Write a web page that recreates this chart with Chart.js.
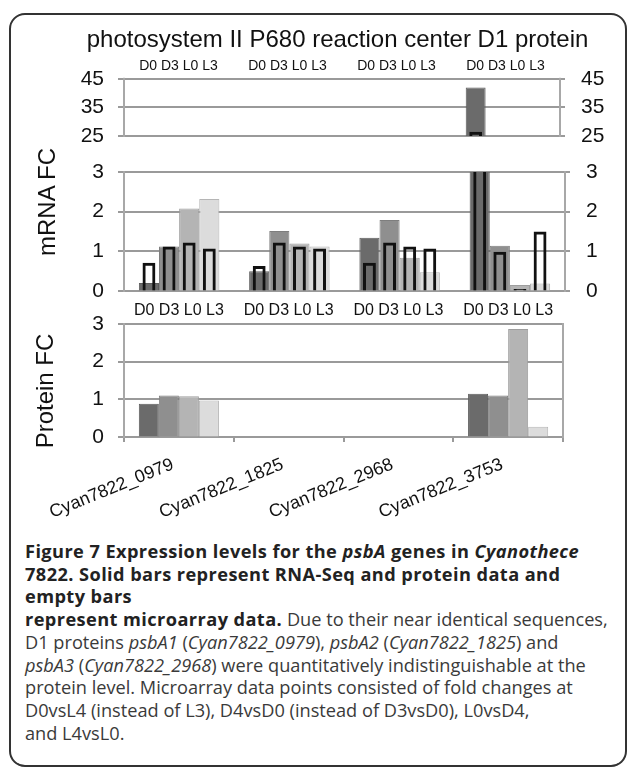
<!DOCTYPE html>
<html>
<head>
<meta charset="utf-8">
<script src="https://cdn.jsdelivr.net/npm/chart.js@4"></script>
<style>
  body { margin: 0; background: #fff; width: 629px; height: 768px; overflow: hidden; position: relative; font-family: "Liberation Sans", Arial, sans-serif; }
  .frame { position: absolute; left: 9px; top: 13px; width: 618px; height: 754px; box-sizing: border-box; border: 2px solid #333; border-radius: 16px; }
  canvas { position: absolute; }
  .ytitle { position: absolute; font-size: 24px; color: #111; transform: translate(-50%, -50%) rotate(-90deg); white-space: nowrap; }
  .caption { position: absolute; left: 25px; top: 540px; font-family: "Open Sans", sans-serif; font-size: 18.2px; line-height: 22.7px; color: #3a3a3a; white-space: nowrap; }
  .caption b { color: #222; letter-spacing: 0.42px; }
</style>
</head>
<body>
<div class="frame"></div>
<canvas id="topChart" width="583" height="136" style="left:46px; top:14px;"></canvas>
<canvas id="mrnaChart" width="629" height="150" style="left:0; top:150px;"></canvas>
<canvas id="protChart" width="629" height="234" style="left:0; top:296px;"></canvas>
<div class="ytitle" style="left:47px; top:202px;">mRNA FC</div>
<div class="ytitle" style="left:45px; top:391px;">Protein FC</div>
<div class="caption">
<b>Figure 7 Expression levels for the <i>psbA</i> genes in <i>Cyanothece</i></b><br>
<b>7822. Solid bars represent RNA-Seq and protein data and</b><br>
<b>empty bars</b><br>
<b>represent microarray data.</b> Due to their near identical sequences,<br>
D1 proteins <i>psbA1</i> (<i>Cyan7822_0979</i>), <i>psbA2</i> (<i>Cyan7822_1825</i>) and<br>
<i>psbA3</i> (<i>Cyan7822_2968</i>) were quantitatively indistinguishable at the<br>
protein level. Microarray data points consisted of fold changes at<br>
D0vsL4 (instead of L3), D4vsD0 (instead of D3vsD0), L0vsD4,<br>
and L4vsL0.
</div>
<script>
const genes = ["Cyan7822_0979", "Cyan7822_1825", "Cyan7822_2968", "Cyan7822_3753"];
const conditions = ["D0", "D3", "L0", "L3"];

// mRNA fold change from RNA-Seq (solid bars)
const rnaseqD0 = [0.2, 0.5, 1.34, 42];
const rnaseqD3 = [1.12, 1.51, 1.79, 1.14];
const rnaseqL0 = [2.08, 1.2, 0.84, 0.15];
const rnaseqL3 = [2.32, 1.12, 0.47, 0.19];

// mRNA fold change from microarray (empty bars)
const arrayD0 = [0.71, 0.63, 0.71, 26.5];
const arrayD3 = [1.12, 1.22, 1.22, 0.99];
const arrayL0 = [1.22, 1.12, 1.12, 0.05];
const arrayL3 = [1.07, 1.07, 1.07, 1.5];

// protein fold change (only 0979 and 3753 measured)
const proteinD0 = [0.88, null, null, 1.15];
const proteinD3 = [1.1, null, null, 1.1];
const proteinL0 = [1.08, null, null, 2.87];
const proteinL3 = [0.97, null, null, 0.27];

const brokenTicks = [25, 35, 45];
const foldTicks = [0, 1, 2, 3];

const conditionRow = conditions.join(" ");
const solidColors = ["#6b6b6b", "#8f8f8f", "#b4b4b4", "#dcdcdc"];
const solidEdges = ["#5c5c5c", "#7e7e7e", "#9e9e9e", "#b5b5b5"];
const gridGray = "#9a9a9a";
const frameGray = "#a8a8a8";
const axisFont = { family: "Liberation Sans", size: 21 };

// solid and empty bar of one condition share a slot (same stack key, values not stacked)
function solidSets(series) {
    return series.map((vals, i) => ({
        label: conditions[i],
        data: vals,
        stack: conditions[i],
        backgroundColor: solidColors[i],
        borderColor: solidEdges[i],
        borderWidth: 1,
        categoryPercentage: 0.73,
        barPercentage: 1,
        order: 2,
        clip: 0
    }));
}

function hollowSets(series) {
    return series.map((vals, i) => ({
        label: conditions[i] + " microarray",
        data: vals,
        stack: conditions[i],
        backgroundColor: "rgba(0,0,0,0)",
        borderColor: "#111",
        borderWidth: 3,
        categoryPercentage: 0.73,
        barPercentage: 0.64,
        order: 1,
        clip: 0
    }));
}

// grid, ticks and frame painted with rectangles from the scales' own pixels
const framePainter = {
    id: "framePainter",
    beforeDatasetsDraw(chart, args, opts) {
        const { ctx, chartArea: a, scales } = chart;
        const y = scales.y;
        ctx.save();
        ctx.fillStyle = gridGray;
        y.ticks.forEach(t => {
            const py = Math.round(y.getPixelForValue(t.value));
            ctx.fillRect(a.left - 6, py - 1, a.right - a.left + 6 + (opts.rightTicks ? 5 : 0), 2);
        });
        if (opts.xTicks) {
            const x = scales.x;
            for (let i = 0; i <= x.ticks.length; i++) {
                const px = Math.round(x.getPixelForValue(i - 0.5));
                ctx.fillRect(px - 1, a.bottom, 2, 5);
            }
        }
        ctx.fillStyle = frameGray;
        ctx.fillRect(Math.round(a.left) - 1, a.top - 1, 2, a.bottom - a.top + 2);
        ctx.fillRect(Math.round(a.right) - 1, a.top - 1, 2, a.bottom - a.top + 2);
        ctx.restore();
    }
};

const hiddenLines = { color: "rgba(0,0,0,0)" };

function leftAxis(list, width) {
    return {
        type: "linear", position: "left", stacked: false,
        min: list[0], max: list[list.length - 1],
        ticks: { stepSize: list[1] - list[0], autoSkip: false, font: axisFont, color: "#111", padding: 14 },
        grid: { ...hiddenLines, tickLength: 6 },
        border: { display: false },
        afterFit: s => { s.width = width; s.paddingTop = 0; s.paddingBottom = 0; }
    };
}

function rightAxis(list, width, showLabels) {
    return {
        type: "linear", position: "right", stacked: false,
        min: list[0], max: list[list.length - 1],
        ticks: { stepSize: list[1] - list[0], autoSkip: false, display: showLabels, font: axisFont, color: "#111", padding: 16 },
        grid: { ...hiddenLines, drawOnChartArea: false, tickLength: 5 },
        border: { display: false },
        afterFit: s => { s.width = width; s.paddingTop = 0; s.paddingBottom = 0; }
    };
}

function topCategoryAxis(size, height) {
    return {
        type: "category", position: "top", offset: true,
        grid: { display: false, drawTicks: false },
        border: { display: false },
        ticks: { callback: () => conditionRow, font: { family: "Liberation Sans", size }, color: "#111", padding: 4, maxRotation: 0, autoSkip: false },
        afterFit: s => { s.height = height; s.paddingLeft = 0; s.paddingRight = 0; }
    };
}

const baseOpts = {
    responsive: false,
    animation: false,
    plugins: { legend: { display: false }, tooltip: { enabled: false } }
};

// upper part of the broken mRNA axis
new Chart(document.getElementById("topChart"), {
    type: "bar",
    data: { labels: genes, datasets: [...solidSets([rnaseqD0, rnaseqD3, rnaseqL0, rnaseqL3]), ...hollowSets([arrayD0, arrayD3, arrayL0, arrayL3])] },
    plugins: [framePainter],
    options: {
        ...baseOpts,
        layout: { padding: { top: 0, bottom: 14, left: 0, right: 0 } },
        plugins: {
            ...baseOpts.plugins,
            framePainter: { rightTicks: true },
            title: {
                display: true,
                text: "photosystem II P680 reaction center D1 protein",
                font: { family: "Liberation Sans", size: 24, weight: "normal" },
                color: "#111",
                padding: { top: 12, bottom: 4 }
            }
        },
        scales: {
            x: topCategoryAxis(14, 20),
            y: leftAxis(brokenTicks, 78),
            yR: rightAxis(brokenTicks, 69, true)
        }
    }
});

// lower part of the mRNA axis
new Chart(document.getElementById("mrnaChart"), {
    type: "bar",
    data: { labels: genes, datasets: [...solidSets([rnaseqD0, rnaseqD3, rnaseqL0, rnaseqL3]), ...hollowSets([arrayD0, arrayD3, arrayL0, arrayL3])] },
    plugins: [framePainter],
    options: {
        ...baseOpts,
        layout: { padding: { top: 22, bottom: 9, left: 0, right: 0 } },
        plugins: { ...baseOpts.plugins, framePainter: { rightTicks: true } },
        scales: {
            x: {
                type: "category", position: "bottom", offset: true,
                grid: { display: false }, border: { display: false }, ticks: { display: false },
                afterFit: s => { s.height = 0; s.paddingLeft = 0; s.paddingRight = 0; }
            },
            y: leftAxis(foldTicks, 124),
            yR: rightAxis(foldTicks, 64, true)
        }
    }
});

// protein fold change
new Chart(document.getElementById("protChart"), {
    type: "bar",
    data: { labels: genes, datasets: solidSets([proteinD0, proteinD3, proteinL0, proteinL3]) },
    plugins: [framePainter],
    options: {
        ...baseOpts,
        layout: { padding: 0 },
        plugins: { ...baseOpts.plugins, framePainter: { rightTicks: false, xTicks: true } },
        scales: {
            x: {
                type: "category", position: "bottom", offset: true,
                grid: { ...hiddenLines, drawOnChartArea: false, offset: true, tickLength: 5 },
                border: { display: false },
                ticks: { font: { family: "Liberation Sans", size: 18 }, color: "#111", minRotation: 22, maxRotation: 22, autoSkip: false, padding: 12, labelOffset: -6 },
                afterFit: s => { s.height = 93; s.paddingLeft = 0; s.paddingRight = 0; }
            },
            xTop: topCategoryAxis(16, 28),
            y: leftAxis(foldTicks, 124),
            yR: rightAxis(foldTicks, 66, false)
        }
    }
});
</script>
</body>
</html>
